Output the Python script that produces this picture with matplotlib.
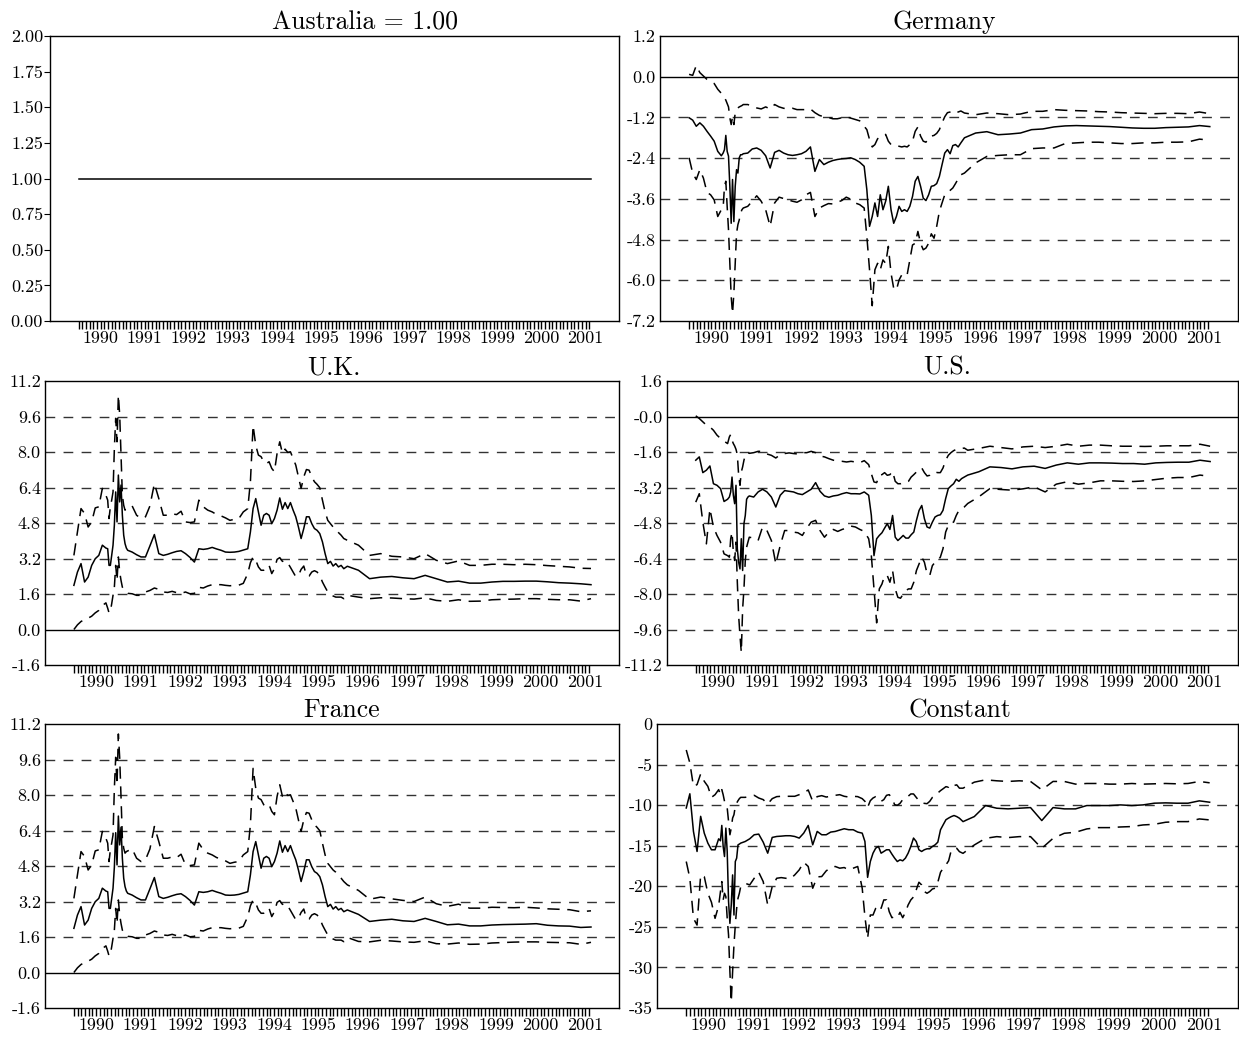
import numpy as np
import matplotlib
matplotlib.use("Agg")
import matplotlib.pyplot as plt

plt.rcParams['font.family'] = ['cmr10', 'DejaVu Serif']
plt.rcParams['axes.unicode_minus'] = False
plt.rcParams['mathtext.fontset'] = 'cm'

# ---------------- observation dates (decimal years) ----------------
dates = np.concatenate([
    1989.50 + 0.08 * np.arange(10),
    1990.26 + 0.03 * np.arange(15),
    1990.71 + 0.10 * np.arange(27),
    1993.41 + 0.06 * np.arange(37),
    np.append(1995.65 + 0.25 * np.arange(22), 2001.13),
])

years = list(range(1990, 2002))
year_labels = [str(y) for y in years]
month_ticks = np.arange(1989.5, 2001.1, 1.0 / 12.0)

# ---------------- data ----------------
australia_mid = [1.00] * 112

germany_mid = [
    -1.21, -1.28, -1.46, -1.36, -1.46, -1.61, -1.75, -1.90, -2.20, -2.33,
    -2.25, -2.15, -1.73, -2.20, -2.34, -3.23, -4.32, -3.03, -4.27, -3.23, -2.74, -2.84, -2.39, -2.30, -2.30,
    -2.27, -2.25, -2.13, -2.10, -2.17, -2.33, -2.69, -2.23, -2.17, -2.25, -2.30, -2.32, -2.30, -2.27, -2.20,
    -2.07, -2.79, -2.44, -2.59, -2.52, -2.47, -2.44, -2.42, -2.41, -2.39, -2.44, -2.52,
    -2.64, -3.33, -4.41, -4.12, -3.72, -4.12, -3.48, -3.92, -3.67, -3.23, -3.92, -4.32, -4.12, -3.82, -3.97,
    -3.92, -3.97, -3.82, -3.53, -3.08, -2.94, -3.23, -3.58, -3.65, -3.48, -3.23, -3.21, -3.15, -2.94, -2.59,
    -2.25, -2.15, -2.27, -2.03, -2.00, -2.07, -1.95,
    -1.80, -1.66, -1.62, -1.71, -1.69, -1.66, -1.56, -1.54, -1.48, -1.45, -1.44, -1.45, -1.46, -1.47, -1.49,
    -1.51, -1.52, -1.52, -1.50, -1.49, -1.48, -1.44, -1.47]
germany_hi = [
    0.07, 0.04, 0.33, 0.12, 0.02, -0.08, -0.15, -0.20, -0.37, -0.49,
    -0.55, -0.62, -0.69, -0.79, -0.89, -1.21, -1.41, -1.18, -1.41, -1.06, -0.97, -0.92, -0.89, -0.87, -0.85,
    -0.82, -0.82, -0.87, -0.92, -0.95, -0.89, -0.95, -0.82, -0.89, -0.93, -0.95, -0.93, -0.97, -0.97, -0.97,
    -0.95, -1.06, -1.14, -1.18, -1.20, -1.24, -1.24, -1.21, -1.18, -1.22, -1.26, -1.30,
    -1.46, -1.56, -1.85, -2.07, -2.00, -1.83, -1.77, -1.75, -1.70, -1.90, -2.00, -2.00, -2.03, -2.05, -2.07,
    -2.05, -2.07, -2.00, -1.90, -1.61, -1.48, -1.75, -1.90, -1.93, -1.80, -1.75, -1.73, -1.67, -1.56, -1.36,
    -1.18, -1.06, -1.04, -1.01, -1.06, -1.04, -1.01,
    -1.07, -1.12, -1.07, -1.09, -1.12, -1.10, -1.02, -1.02, -0.97, -0.99, -1.00, -1.01, -1.03, -1.04, -1.06,
    -1.07, -1.08, -1.09, -1.08, -1.08, -1.09, -1.04, -1.09]
germany_lo = [
    -2.39, -2.84, -3.03, -2.74, -2.99, -3.41, -3.48, -3.63, -4.12, -3.92,
    -3.87, -3.23, -3.08, -3.82, -4.51, -5.50, -6.48, -6.98, -6.38, -5.50, -4.61, -4.36, -4.22, -4.02, -3.92,
    -3.87, -3.82, -3.67, -3.51, -3.67, -3.92, -4.41, -3.72, -3.55, -3.59, -3.63, -3.67, -3.70, -3.63, -3.48,
    -3.41, -4.12, -3.87, -3.80, -3.74, -3.75, -3.70, -3.65, -3.55, -3.61, -3.72, -3.77,
    -3.87, -4.71, -5.69, -6.75, -5.69, -5.50, -5.69, -5.40, -5.50, -5.00, -5.79, -6.24, -6.29, -5.99, -5.84,
    -5.79, -5.84, -5.40, -4.96, -4.91, -4.56, -4.91, -5.10, -5.05, -4.91, -4.63, -4.76, -4.41, -3.97, -3.72,
    -3.48, -3.41, -3.35, -3.28, -3.15, -3.01, -2.89,
    -2.84, -2.54, -2.35, -2.32, -2.30, -2.30, -2.12, -2.10, -2.10, -1.97, -1.95, -1.93, -1.93, -1.95, -1.97,
    -1.97, -1.95, -1.95, -1.93, -1.93, -1.92, -1.84, -1.87]

uk_mid = [
    1.99, 2.59, 2.97, 2.14, 2.36, 2.89, 3.19, 3.34, 3.80, 3.67,
    3.64, 2.89, 2.89, 3.34, 3.80, 4.70, 6.20, 4.85, 6.96, 5.75, 6.51, 5.15, 4.25, 3.87, 3.67,
    3.57, 3.49, 3.37, 3.27, 3.27, 3.77, 4.28, 3.42, 3.34, 3.39, 3.46, 3.52, 3.55, 3.42, 3.25,
    3.04, 3.64, 3.61, 3.64, 3.70, 3.63, 3.57, 3.49, 3.48, 3.49, 3.52, 3.58,
    3.64, 4.40, 5.45, 5.90, 5.30, 4.70, 5.15, 5.23, 5.15, 4.77, 5.00, 5.38, 5.93, 5.42, 5.72,
    5.45, 5.72, 5.38, 5.08, 4.62, 4.10, 4.55, 5.08, 5.08, 4.77, 4.55, 4.47, 4.32, 3.95, 3.42,
    2.97, 3.07, 2.86, 2.97, 2.82, 2.89, 2.74,
    2.85, 2.67, 2.29, 2.36, 2.39, 2.33, 2.29, 2.44, 2.29, 2.14, 2.18, 2.09, 2.09, 2.14, 2.17,
    2.17, 2.18, 2.18, 2.15, 2.11, 2.09, 2.06, 2.02]
uk_hi = [
    3.34, 4.40, 5.45, 5.23, 4.62, 4.85, 5.48, 5.53, 6.36, 6.05,
    5.83, 5.00, 5.53, 5.83, 6.20, 8.16, 9.52, 8.46, 10.57, 9.67, 7.86, 6.05, 5.60, 5.38, 5.45,
    5.48, 5.57, 5.15, 5.00, 5.08, 5.57, 6.58, 5.90, 5.15, 5.15, 5.21, 5.18, 5.33, 4.85, 4.82,
    4.85, 5.83, 5.53, 5.38, 5.30, 5.18, 5.12, 5.03, 4.92, 4.97, 5.00, 5.30,
    5.45, 6.66, 9.20, 8.30, 7.86, 7.79, 7.56, 7.48, 7.56, 7.26, 7.11, 7.94, 8.46, 7.94, 8.13,
    7.98, 8.01, 7.71, 7.41, 6.88, 6.36, 6.88, 7.21, 7.18, 6.88, 6.66, 6.54, 6.39, 5.83, 5.30,
    4.92, 4.77, 4.62, 4.52, 4.37, 4.25, 4.10,
    4.02, 3.80, 3.34, 3.42, 3.30, 3.27, 3.19, 3.42, 3.12, 2.97, 3.09, 2.89, 2.89, 2.94, 2.94,
    2.92, 2.94, 2.92, 2.88, 2.85, 2.82, 2.76, 2.75]
uk_lo = [
    0.00, 0.21, 0.36, 0.45, 0.51, 0.60, 0.75, 0.86, 1.08, 1.20,
    0.96, 0.75, 0.81, 1.16, 1.54, 1.91, 2.89, 2.21, 3.27, 2.59, 2.21, 1.91, 1.81, 1.72, 1.66,
    1.63, 1.61, 1.54, 1.54, 1.69, 1.76, 1.87, 1.81, 1.69, 1.67, 1.72, 1.66, 1.63, 1.69, 1.61,
    1.63, 1.90, 1.87, 1.96, 2.02, 2.02, 2.02, 1.99, 1.97, 2.00, 2.00, 2.08,
    2.52, 3.01, 3.27, 3.12, 2.82, 2.67, 2.67, 2.71, 2.89, 2.52, 2.74, 3.16, 3.24, 3.07, 3.10,
    3.00, 2.80, 2.59, 2.38, 2.44, 2.71, 2.86, 2.44, 2.41, 2.59, 2.65, 2.59, 2.44, 2.14, 1.91,
    1.69, 1.58, 1.51, 1.46, 1.46, 1.46, 1.39,
    1.54, 1.46, 1.39, 1.43, 1.42, 1.39, 1.37, 1.43, 1.31, 1.27, 1.34, 1.27, 1.28, 1.34, 1.36,
    1.37, 1.39, 1.39, 1.36, 1.34, 1.34, 1.28, 1.39]

us_mid = [
    -1.97, -1.82, -2.53, -2.42, -2.23, -3.03, -3.10, -3.25, -3.83, -3.73,
    -3.63, -3.40, -2.73, -3.55, -3.93, -3.10, -5.96, -6.57, -6.87, -5.51, -6.94, -4.83, -4.46, -3.73, -3.63,
    -3.58, -3.63, -3.40, -3.28, -3.40, -3.63, -4.08, -3.55, -3.34, -3.37, -3.40, -3.48, -3.52, -3.40, -3.28,
    -2.98, -3.37, -3.58, -3.64, -3.58, -3.55, -3.48, -3.43, -3.48, -3.48, -3.49, -3.40,
    -3.55, -4.46, -6.27, -5.51, -5.36, -5.24, -5.03, -4.83, -5.09, -4.46, -5.44, -5.59, -5.48, -5.36, -5.48,
    -5.48, -5.33, -5.21, -4.68, -4.23, -4.01, -4.61, -4.98, -5.03, -4.76, -4.53, -4.46, -4.43, -4.23, -3.70,
    -3.25, -3.13, -3.03, -2.83, -2.92, -2.80, -2.73,
    -2.64, -2.49, -2.27, -2.30, -2.36, -2.27, -2.24, -2.34, -2.19, -2.09, -2.15, -2.09, -2.09, -2.10, -2.12,
    -2.12, -2.15, -2.09, -2.07, -2.06, -2.06, -1.97, -2.03]
us_hi = [
    0.03, -0.09, -0.24, -0.39, -0.47, -0.62, -0.84, -0.99, -1.11, -1.22,
    -0.92, -0.81, -1.07, -1.22, -1.33, -1.48, -1.72, -2.65, -3.10, -2.50, -2.27, -1.97, -1.75, -1.67, -1.63,
    -1.66, -1.63, -1.57, -1.57, -1.69, -1.75, -1.87, -1.72, -1.67, -1.64, -1.67, -1.69, -1.63, -1.63, -1.57,
    -1.63, -1.78, -1.82, -1.90, -1.97, -2.00, -2.02, -2.05, -2.02, -2.05, -2.08, -1.99,
    -2.17, -2.58, -2.95, -2.98, -2.65, -2.62, -2.53, -2.65, -2.62, -2.47, -2.92, -3.03, -3.03, -2.98, -2.98,
    -2.92, -2.73, -2.62, -2.50, -2.38, -2.32, -2.53, -2.68, -2.65, -2.53, -2.50, -2.53, -2.53, -2.32, -1.97,
    -1.75, -1.63, -1.54, -1.48, -1.48, -1.45, -1.42,
    -1.52, -1.44, -1.34, -1.40, -1.46, -1.37, -1.34, -1.40, -1.34, -1.25, -1.34, -1.29, -1.29, -1.32, -1.34,
    -1.34, -1.35, -1.34, -1.32, -1.32, -1.32, -1.25, -1.34]
us_lo = [
    -3.86, -3.48, -4.76, -5.74, -4.16, -4.98, -5.36, -5.66, -6.19, -6.27,
    -6.34, -5.51, -5.21, -6.11, -6.49, -5.66, -7.47, -8.98, -9.88, -10.63, -8.67, -7.77, -6.49, -5.89, -5.66,
    -5.44, -5.48, -5.59, -4.98, -5.14, -5.59, -6.64, -5.81, -5.14, -5.14, -5.21, -5.24, -5.36, -5.03, -4.76,
    -4.68, -5.14, -5.44, -5.21, -5.09, -5.18, -5.09, -5.03, -4.94, -4.98, -5.09, -5.18,
    -5.51, -6.27, -7.77, -9.30, -7.77, -7.55, -7.17, -7.17, -7.47, -6.94, -7.77, -8.15, -8.19, -8.00, -7.85,
    -7.77, -7.77, -7.47, -6.94, -6.64, -6.34, -6.57, -7.09, -7.17, -6.72, -6.57, -6.49, -6.34, -5.96, -5.21,
    -4.91, -4.80, -4.76, -4.46, -4.23, -4.16, -4.08,
    -3.92, -3.62, -3.25, -3.29, -3.32, -3.26, -3.17, -3.40, -3.05, -2.94, -3.05, -2.99, -2.90, -2.90, -2.92,
    -2.93, -2.90, -2.84, -2.78, -2.75, -2.75, -2.64, -2.70]

france_mid = [
    1.99, 2.59, 2.97, 2.14, 2.36, 2.89, 3.19, 3.34, 3.80, 3.67,
    3.64, 2.89, 2.89, 3.34, 3.80, 4.75, 6.30, 4.85, 7.05, 5.75, 6.55, 5.15, 4.25, 3.87, 3.67,
    3.57, 3.49, 3.37, 3.27, 3.27, 3.77, 4.28, 3.42, 3.34, 3.39, 3.46, 3.52, 3.55, 3.42, 3.25,
    3.04, 3.64, 3.61, 3.64, 3.70, 3.63, 3.57, 3.49, 3.48, 3.49, 3.52, 3.58,
    3.64, 4.40, 5.45, 5.90, 5.30, 4.70, 5.15, 5.23, 5.15, 4.77, 5.00, 5.38, 5.93, 5.42, 5.72,
    5.45, 5.72, 5.38, 5.08, 4.62, 4.10, 4.55, 5.08, 5.08, 4.77, 4.55, 4.47, 4.32, 3.95, 3.42,
    2.97, 3.07, 2.86, 2.97, 2.82, 2.89, 2.74,
    2.82, 2.62, 2.30, 2.36, 2.40, 2.33, 2.30, 2.44, 2.30, 2.15, 2.18, 2.10, 2.10, 2.14, 2.16,
    2.17, 2.18, 2.20, 2.13, 2.10, 2.09, 2.03, 2.05]
france_hi = [
    3.34, 4.40, 5.45, 5.23, 4.62, 4.85, 5.48, 5.53, 6.36, 6.05,
    5.83, 5.00, 5.53, 5.83, 6.20, 8.30, 9.70, 8.46, 10.75, 9.67, 7.90, 6.05, 5.60, 5.38, 5.45,
    5.48, 5.57, 5.15, 5.00, 5.08, 5.57, 6.58, 5.90, 5.15, 5.15, 5.21, 5.18, 5.33, 4.85, 4.82,
    4.85, 5.83, 5.53, 5.38, 5.30, 5.18, 5.12, 5.03, 4.92, 4.97, 5.00, 5.30,
    5.45, 6.66, 9.20, 8.30, 7.86, 7.79, 7.56, 7.48, 7.56, 7.26, 7.11, 7.94, 8.46, 7.94, 8.13,
    7.98, 8.01, 7.71, 7.41, 6.88, 6.36, 6.88, 7.21, 7.18, 6.88, 6.66, 6.54, 6.39, 5.83, 5.30,
    4.92, 4.77, 4.62, 4.52, 4.37, 4.25, 4.10,
    3.95, 3.70, 3.30, 3.40, 3.32, 3.25, 3.20, 3.40, 3.10, 2.98, 3.08, 2.90, 2.90, 2.94, 2.93,
    2.92, 2.94, 2.91, 2.87, 2.85, 2.83, 2.74, 2.78]
france_lo = [
    0.00, 0.21, 0.36, 0.45, 0.51, 0.60, 0.75, 0.86, 1.08, 1.20,
    0.96, 0.75, 0.81, 1.16, 1.54, 1.91, 2.89, 2.21, 3.27, 2.59, 2.21, 1.91, 1.81, 1.72, 1.66,
    1.63, 1.61, 1.54, 1.54, 1.69, 1.76, 1.87, 1.81, 1.69, 1.67, 1.72, 1.66, 1.63, 1.69, 1.61,
    1.63, 1.90, 1.87, 1.96, 2.02, 2.02, 2.02, 1.99, 1.97, 2.00, 2.00, 2.08,
    2.52, 3.01, 3.27, 3.12, 2.82, 2.67, 2.67, 2.71, 2.89, 2.52, 2.74, 3.16, 3.24, 3.07, 3.10,
    3.00, 2.80, 2.59, 2.38, 2.44, 2.71, 2.86, 2.44, 2.41, 2.59, 2.65, 2.59, 2.44, 2.14, 1.91,
    1.69, 1.58, 1.51, 1.46, 1.46, 1.46, 1.39,
    1.58, 1.40, 1.38, 1.45, 1.42, 1.38, 1.36, 1.43, 1.30, 1.28, 1.33, 1.27, 1.28, 1.33, 1.35,
    1.37, 1.38, 1.38, 1.36, 1.35, 1.34, 1.27, 1.36]

constant_mid = [
    -10.35, -8.60, -13.24, -15.71, -11.38, -13.45, -14.68, -15.50, -15.50, -14.15,
    -14.39, -12.50, -15.09, -16.33, -12.83, -15.71, -21.89, -24.57, -22.30, -18.60, -23.54, -16.95, -16.53, -14.89, -14.80,
    -14.68, -14.48, -14.15, -13.65, -13.57, -14.56, -15.92, -13.98, -13.86, -13.82, -13.77, -13.77, -13.86, -14.06, -13.45,
    -12.50, -14.89, -13.24, -13.65, -13.65, -13.32, -13.24, -13.07, -12.91, -13.03, -13.03, -13.32,
    -13.45, -14.48, -18.90, -16.95, -15.92, -15.30, -15.09, -15.92, -15.71, -15.50, -15.50, -16.04, -16.53, -16.95, -16.74,
    -16.86, -16.53, -15.92, -15.09, -14.06, -14.48, -15.50, -15.71, -15.50, -15.38, -15.38, -15.09, -14.89, -14.56, -13.03,
    -12.41, -11.80, -11.59, -11.41, -11.28, -11.41, -11.61,
    -12.03, -11.41, -10.05, -10.38, -10.46, -10.38, -10.30, -11.90, -10.30, -10.46, -10.46, -10.05, -10.05, -10.05, -9.97,
    -10.05, -9.97, -9.76, -9.72, -9.76, -9.76, -9.47, -9.64]
constant_hi = [
    -3.20, -4.80, -7.68, -7.47, -6.15, -7.06, -7.68, -9.04, -8.71, -8.09,
    -8.71, -8.09, -8.71, -9.53, -9.86, -10.35, -12.00, -13.65, -12.83, -11.59, -11.18, -10.15, -9.74, -9.45, -9.20,
    -9.04, -9.04, -8.91, -8.79, -9.12, -9.32, -9.86, -9.20, -8.95, -8.91, -8.91, -8.91, -8.91, -8.71, -8.50,
    -8.13, -9.53, -8.95, -8.83, -9.00, -8.91, -8.79, -8.71, -8.91, -9.00, -8.91, -8.95,
    -9.20, -9.53, -10.27, -9.45, -9.12, -8.95, -9.12, -9.53, -9.32, -8.79, -8.71, -9.12, -9.94, -10.02, -9.78,
    -9.32, -9.20, -8.91, -8.62, -8.62, -9.04, -9.45, -9.70, -9.78, -9.82, -9.53, -9.04, -8.79, -8.50, -8.21,
    -7.97, -7.72, -7.80, -7.41, -7.58, -7.50, -7.91,
    -7.91, -7.17, -6.88, -7.00, -7.08, -7.00, -7.08, -8.11, -7.08, -7.08, -7.41, -7.33, -7.33, -7.41, -7.41,
    -7.33, -7.41, -7.37, -7.33, -7.37, -7.33, -7.08, -7.25]
constant_lo = [
    -16.95, -19.01, -23.95, -24.78, -18.60, -18.80, -20.86, -21.97, -23.95, -22.39,
    -20.65, -19.42, -21.68, -20.86, -21.27, -23.95, -26.01, -30.54, -34.25, -30.54, -27.25, -24.78, -22.71, -21.48, -20.86,
    -20.04, -19.63, -19.83, -19.01, -18.27, -19.42, -22.30, -20.04, -19.01, -18.93, -19.01, -19.09, -18.60, -17.98, -17.03,
    -17.56, -20.24, -18.84, -18.80, -18.10, -17.69, -17.56, -17.77, -17.69, -17.98, -17.77, -17.56,
    -20.24, -23.75, -26.42, -23.54, -23.54, -22.71, -22.30, -22.71, -21.68, -21.68, -23.13, -23.87, -23.75, -23.87, -23.21,
    -23.87, -23.21, -22.30, -21.68, -21.31, -20.45, -19.50, -19.83, -20.65, -20.86, -20.65, -20.33, -20.24, -19.50, -18.27,
    -17.77, -17.36, -16.86, -15.53, -15.40, -15.32, -15.73,
    -15.94, -14.91, -14.09, -13.88, -14.00, -13.88, -13.88, -15.32, -14.09, -13.47, -13.34, -12.93, -12.77, -12.77, -12.69,
    -12.64, -12.44, -12.36, -12.11, -12.03, -12.03, -11.70, -11.82]

# ---------------- axis tick values and labels ----------------
au_yticks = [0.0, 0.25, 0.5, 0.75, 1.0, 1.25, 1.5, 1.75, 2.0]
au_ylabels = ["0.00", "0.25", "0.50", "0.75", "1.00", "1.25", "1.50", "1.75", "2.00"]
ge_yticks = [-7.2, -6.0, -4.8, -3.6, -2.4, -1.2, 0.0, 1.2]
ge_ylabels = ["-7.2", "-6.0", "-4.8", "-3.6", "-2.4", "-1.2", "0.0", "1.2"]
uk_yticks = [-1.6, 0.0, 1.6, 3.2, 4.8, 6.4, 8.0, 9.6, 11.2]
uk_ylabels = ["-1.6", "0.0", "1.6", "3.2", "4.8", "6.4", "8.0", "9.6", "11.2"]
us_yticks = [-11.2, -9.6, -8.0, -6.4, -4.8, -3.2, -1.6, 0.0, 1.6]
us_ylabels = ["-11.2", "-9.6", "-8.0", "-6.4", "-4.8", "-3.2", "-1.6", "-0.0", "1.6"]
co_yticks = [-35, -30, -25, -20, -15, -10, -5, 0]
co_ylabels = ["-35", "-30", "-25", "-20", "-15", "-10", "-5", "0"]

W, H = 1239, 1038
fig = plt.figure(figsize=(W / 100, H / 100), dpi=100)


def rect(l, r, t, b):
    return [l / W, (H - b) / H, (r - l) / W, (b - t) / H]


GRID_STYLE = dict(color='#333333', lw=1.0, ls=(0, (7, 6)), zorder=1)
BAND_STYLE = dict(color='black', lw=1.1, ls=(0, (8, 5)), zorder=3)
MID_STYLE = dict(color='black', lw=1.1, ls='-', zorder=4)


def panel(r, title, tx, yt, ytl, grid, zero, mid, hi=None, lo=None, ytick_len=0):
    ax = fig.add_axes(r)
    ax.set_xlim(1988.85, 2001.76)
    ax.set_ylim(yt[0], yt[-1])
    for g in grid:
        ax.axhline(g, **GRID_STYLE)
    if zero:
        ax.axhline(0.0, color='black', lw=1.0, zorder=2)
    if hi is not None:
        ax.plot(dates, hi, **BAND_STYLE)
    if lo is not None:
        ax.plot(dates, lo, **BAND_STYLE)
    ax.plot(dates, mid, **MID_STYLE)
    ax.set_yticks(yt)
    ax.set_yticklabels(ytl)
    ax.set_xticks(years)
    ax.set_xticklabels(year_labels)
    ax.set_xticks(month_ticks, minor=True)
    ax.tick_params(axis='x', which='both', direction='out', length=6, width=1.0,
                   color='black', pad=1.0, labelsize=13, top=False)
    ax.tick_params(axis='y', which='both', direction='out', length=ytick_len, width=0.8,
                   pad=1.0 if ytick_len else 3.0, labelsize=13, right=False)
    for s in ax.spines.values():
        s.set_linewidth(1.0)
    ax.set_title(title, x=tx, fontsize=18.5, pad=5)
    return ax


panel(rect(50, 619, 36, 321), "Australia = 1.00", 0.554, au_yticks, au_ylabels,
      [], False, australia_mid, ytick_len=4)
panel(rect(660, 1238, 36, 321), "Germany", 0.491, ge_yticks, ge_ylabels,
      [-1.2, -2.4, -3.6, -4.8, -6.0], True, germany_mid, germany_hi, germany_lo)
panel(rect(45, 619, 381, 665), "U.K.", 0.503, uk_yticks, uk_ylabels,
      [1.6, 3.2, 4.8, 6.4, 8.0, 9.6], True, uk_mid, uk_hi, uk_lo)
panel(rect(667, 1238, 381, 665), "U.S.", 0.490, us_yticks, us_ylabels,
      [-1.6, -3.2, -4.8, -6.4, -8.0, -9.6], True, us_mid, us_hi, us_lo)
panel(rect(45, 619, 724, 1008), "France", 0.516, uk_yticks, uk_ylabels,
      [1.6, 3.2, 4.8, 6.4, 8.0, 9.6], True, france_mid, france_hi, france_lo)
panel(rect(657, 1238, 724, 1008), "Constant", 0.522, co_yticks, co_ylabels,
      [-5, -10, -15, -20, -25, -30], False, constant_mid, constant_hi, constant_lo)

fig.savefig("out.png", dpi=100)
